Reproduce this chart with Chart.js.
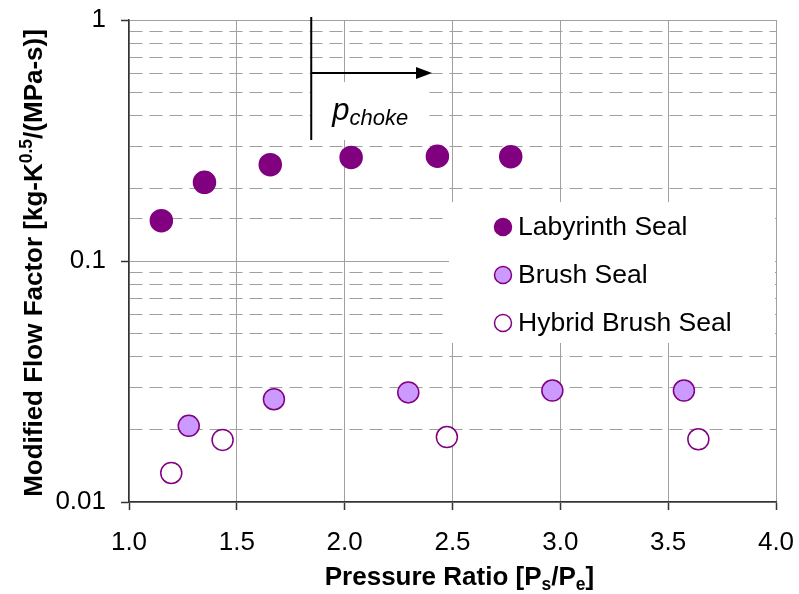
<!DOCTYPE html>
<html>
<head>
<meta charset="utf-8">
<script src="https://cdn.jsdelivr.net/npm/chart.js@4.4.0/dist/chart.umd.min.js"></script>
<style>
  html, body { margin: 0; padding: 0; background: #fff; }
  #flow-chart { display: block; }
</style>
</head>
<body>
<canvas id="flow-chart" width="799" height="594"></canvas>
<script>
// pressure ratio / modified flow factor
var labyrinthX = [1.15, 1.35, 1.655, 2.03, 2.43, 2.77];
var labyrinthY = [0.147, 0.212, 0.251, 0.269, 0.272, 0.271];
var brushX = [1.277, 1.672, 2.295, 2.963, 3.573];
var brushY = [0.0207, 0.0267, 0.0285, 0.029, 0.029];
var hybridX = [1.196, 1.434, 2.474, 3.64];
var hybridY = [0.0132, 0.0181, 0.0186, 0.0182];
var seriesNames = ['Labyrinth Seal', 'Brush Seal', 'Hybrid Brush Seal'];
var xTicks = [1.0, 1.5, 2.0, 2.5, 3.0, 3.5, 4.0];
var chokeX = 1.845;          // p_choke marker
var chokeArrowEnd = 2.405;

var FONT = '"Liberation Sans", Arial, sans-serif';
var PURPLE = '#800080';

function pts(xs, ys) {
    return xs.map(function(x, i) { return {x: x, y: ys[i]}; });
}
function isDecade(v) {
    var l = Math.log10(v);
    return Math.abs(l - Math.round(l)) < 1e-6;
}
function noPad(scale) {
    scale.paddingLeft = scale.paddingRight = scale.paddingTop = scale.paddingBottom = 0;
}

var styles = [
    {bg: PURPLE, border: PURPLE, r: 11},
    {bg: '#cc99ff', border: PURPLE, r: 10.5},
    {bg: '#ffffff', border: PURPLE, r: 10.5}
];

// draws text pieces with sub/superscripts, returns width
function richText(ctx, parts, x, y, measureOnly) {
    var cx = x;
    parts.forEach(function(p) {
        ctx.font = p.font;
        if (!measureOnly) ctx.fillText(p.t, cx, y + (p.dy || 0));
        cx += ctx.measureText(p.t).width;
    });
    return cx - x;
}

var decor = {
    id: 'decor',
    beforeDatasetsDraw: function(chart) {
        var ctx = chart.ctx, xs = chart.scales.x, ys = chart.scales.y;
        ctx.save();

        // white box behind p_choke label
        var lx = xs.getPixelForValue(chokeX);
        ctx.fillStyle = '#fff';
        ctx.fillRect(lx, 82, 116, 58);

        // legend box
        ctx.fillRect(449, 202, 326, 141);
        ctx.textBaseline = 'middle';
        ctx.textAlign = 'left';
        seriesNames.forEach(function(name, i) {
            var cy = 227 + i * 48;
            ctx.beginPath();
            ctx.arc(503, cy, 8.5, 0, Math.PI * 2);
            ctx.fillStyle = styles[i].bg;
            ctx.fill();
            ctx.lineWidth = 1.5;
            ctx.strokeStyle = styles[i].border;
            ctx.stroke();
            ctx.fillStyle = '#000';
            ctx.font = '26.5px ' + FONT;
            ctx.fillText(name, 518, cy + 1);
        });

        // choke line + arrow
        var yTop = ys.getPixelForValue(1.03);
        var yBot = ys.getPixelForValue(0.318);
        var yArr = ys.getPixelForValue(0.603);
        var xEnd = xs.getPixelForValue(chokeArrowEnd);
        ctx.strokeStyle = '#000';
        ctx.lineWidth = 2;
        ctx.beginPath();
        ctx.moveTo(lx, yTop);
        ctx.lineTo(lx, yBot);
        ctx.moveTo(lx, yArr);
        ctx.lineTo(xEnd - 12, yArr);
        ctx.stroke();
        ctx.fillStyle = '#000';
        ctx.beginPath();
        ctx.moveTo(xEnd, yArr);
        ctx.lineTo(xEnd - 16, yArr - 6);
        ctx.lineTo(xEnd - 16, yArr + 6);
        ctx.closePath();
        ctx.fill();

        ctx.textBaseline = 'alphabetic';
        richText(ctx, [
            {t: 'p', font: 'italic 31px ' + FONT},
            {t: 'choke', font: 'italic 22px ' + FONT, dy: 5}
        ], lx + 21, 120);
        ctx.restore();
    },
    afterDraw: function(chart) {
        var ctx = chart.ctx, area = chart.chartArea;
        ctx.save();
        ctx.fillStyle = '#000';
        ctx.textBaseline = 'alphabetic';
        var B = 'bold 26px ' + FONT, BS = 'bold 17.5px ' + FONT;

        var xParts = [
            {t: 'Pressure Ratio [P', font: B},
            {t: 's', font: BS, dy: 5},
            {t: '/P', font: B},
            {t: 'e', font: BS, dy: 5},
            {t: ']', font: B}
        ];
        var w = richText(ctx, xParts, 0, 0, true);
        richText(ctx, xParts, (area.left + area.right) / 2 + 7 - w / 2, 585);

        var yParts = [
            {t: 'Modified Flow Factor [kg-K', font: B},
            {t: '0.5', font: BS, dy: -10},
            {t: '/(MPa-s)]', font: B}
        ];
        var h = richText(ctx, yParts, 0, 0, true);
        ctx.translate(42, 263);
        ctx.rotate(-Math.PI / 2);
        richText(ctx, yParts, -h / 2, 0);
        ctx.restore();
    }
};

var chart = new Chart(document.getElementById('flow-chart'), {
    type: 'scatter',
    data: {
        datasets: [
            {label: seriesNames[0], data: pts(labyrinthX, labyrinthY)},
            {label: seriesNames[1], data: pts(brushX, brushY)},
            {label: seriesNames[2], data: pts(hybridX, hybridY)}
        ].map(function(ds, i) {
            ds.backgroundColor = styles[i].bg;
            ds.borderColor = styles[i].border;
            ds.borderWidth = 1.5;
            ds.pointRadius = styles[i].r;
            ds.pointHoverRadius = styles[i].r;
            return ds;
        })
    },
    options: {
        responsive: false,
        animation: false,
        events: [],
        layout: {padding: {top: 20, right: 23, left: 0, bottom: 0}},
        plugins: {legend: {display: false}, tooltip: {enabled: false}},
        scales: {
            x: {
                type: 'linear',
                min: 1, max: 4,
                afterBuildTicks: function(scale) {
                    scale.ticks = xTicks.map(function(v) { return {value: v}; });
                },
                afterFit: function(scale) { scale.height = 92; noPad(scale); },
                ticks: {
                    color: '#000',
                    font: {family: FONT, size: 26},
                    padding: 17,
                    maxRotation: 0,
                    callback: function(v) { return Number(v).toFixed(1); }
                },
                grid: {color: '#a0a0a0', lineWidth: 1, tickLength: 8, tickColor: '#333', tickWidth: 1.5},
                border: {color: '#333', width: 1.5}
            },
            y: {
                type: 'logarithmic',
                min: 0.01, max: 1,
                afterFit: function(scale) { scale.width = 129; noPad(scale); },
                ticks: {
                    color: '#000',
                    font: {family: FONT, size: 26},
                    padding: 15,
                    autoSkip: false,
                    callback: function(v) {
                        return isDecade(v) ? String(Number(v.toPrecision(6))) : '';
                    }
                },
                grid: {
                    color: '#a0a0a0',
                    lineWidth: 1,
                    tickLength: 8,
                    tickColor: '#333',
                    tickWidth: function(c) { return c.tick && isDecade(c.tick.value) ? 1.5 : 0; }
                },
                border: {
                    color: '#333', width: 1.5,
                    dash: function(c) { return c.tick && !isDecade(c.tick.value) ? [13, 7] : []; }
                }
            }
        }
    },
    plugins: [decor]
});
</script>
</body>
</html>
